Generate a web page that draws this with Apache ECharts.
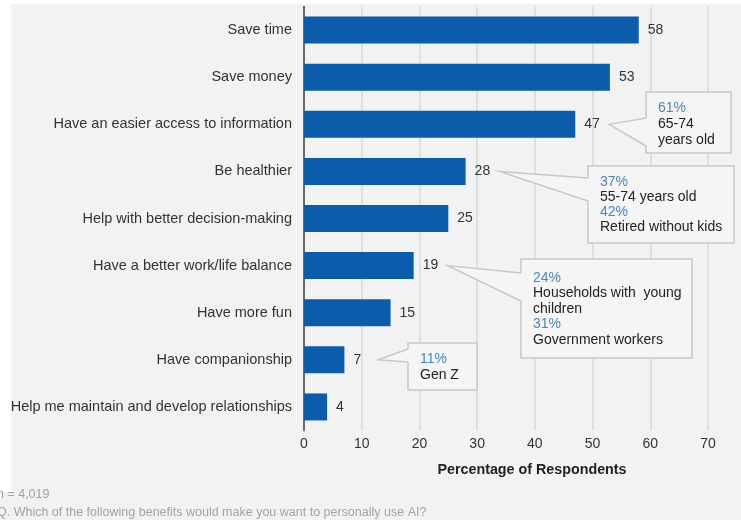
<!DOCTYPE html>
<html>
<head>
<meta charset="utf-8">
<script src="https://cdn.jsdelivr.net/npm/echarts@6/dist/echarts.min.js"></script>
<style>html,body{margin:0;padding:0;background:#f2f2f2;}#c{width:741px;height:520px;}</style>
</head>
<body>
<div id="c"></div>
<script>
const categories = [
  "Save time",
  "Save money",
  "Have an easier access to information",
  "Be healthier",
  "Help with better decision-making",
  "Have a better work/life balance",
  "Have more fun",
  "Have companionship",
  "Help me maintain and develop relationships"
];
const values = [58, 53, 47, 28, 25, 19, 15, 7, 4];
const xTicks = [0, 10, 20, 30, 40, 50, 60, 70];
const axisTitle = "Percentage of Respondents";
const footnotes = ["n = 4,019", "Q. Which of the following benefits would make you want to personally use AI?"];
// callouts: category index, box [x,y,w,h], lines [[text, isBlue]]
const callouts = [
  {idx: 2, box: [646, 92, 85, 61], base: [118, 146], first: 16, lh: 16, lines: [["61%", true], ["65-74", false], ["years old", false]]},
  {idx: 3, box: [588, 166, 146, 77], base: [178, 201], first: 16, lh: 15, lines: [["37%", true], ["55-74 years old", false], ["42%", true], ["Retired without kids", false]]},
  {idx: 5, box: [521, 259, 171, 99], base: [273, 301], first: 19, lh: 15.5, lines: [["24%", true], ["Households with  young", false], ["children", false], ["31%", true], ["Government workers", false]]},
  {idx: 7, box: [408, 343, 69, 47], base: [349, 362], first: 16, lh: 16, lines: [["11%", true], ["Gen Z", false]]}
];

const FONT = "Liberation Sans, Arial, sans-serif";
const chart = echarts.init(document.getElementById('c'));
const option = {
  backgroundColor: '#f2f2f2',
  animation: false,
  grid: {left: 304, right: 33, top: 6.5, bottom: 89.5},
  xAxis: {
    type: 'value', min: 0, max: 70, interval: 10,
    axisLine: {show: false}, axisTick: {show: false},
    splitLine: {show: true, lineStyle: {color: '#d9d9d9', width: 1.5}},
    axisLabel: {color: '#333', fontSize: 14, fontFamily: FONT, margin: 7,
      formatter: v => xTicks.includes(v) ? String(v) : ''}
  },
  yAxis: {
    type: 'category', data: categories, inverse: true,
    axisLine: {show: true, lineStyle: {color: '#404040', width: 1.5}},
    axisTick: {show: false},
    axisLabel: {color: '#333', fontSize: 14.5, fontFamily: FONT, margin: 12}
  },
  series: [{
    type: 'bar', data: values, barWidth: 27,
    itemStyle: {color: '#0b5cab'},
    label: {show: true, position: 'right', distance: 9, color: '#333', fontSize: 14, fontFamily: FONT}
  }]
};
chart.setOption(option);

const g = [];
// white strips
g.push({type: 'rect', shape: {x: 0, y: 0, width: 741, height: 4}, style: {fill: '#ffffff'}, z: 100});
g.push({type: 'rect', shape: {x: 0, y: 0, width: 11, height: 492}, style: {fill: '#ffffff'}, z: 100});
g.push({type: 'text', style: {text: axisTitle, x: 532, y: 470, textAlign: 'center', textVerticalAlign: 'middle', font: 'bold 14.3px ' + FONT, fill: '#222'}, z: 100});
g.push({type: 'text', style: {text: footnotes[0], x: -3, y: 495, textVerticalAlign: 'middle', font: '12.5px ' + FONT, fill: '#a3a3a3'}, z: 100});
g.push({type: 'text', style: {text: footnotes[1], x: -3, y: 513, textVerticalAlign: 'middle', font: '12.5px ' + FONT, fill: '#a3a3a3'}, z: 100});

callouts.forEach(c => {
  const p = chart.convertToPixel({gridIndex: 0}, [values[c.idx], c.idx]);
  const tipX = p[0] + 34, tipY = p[1];
  const [bx, by, bw, bh] = c.box;
  g.push({type: 'rect', shape: {x: bx, y: by, width: bw, height: bh}, style: {fill: '#f5f5f5', stroke: '#c8c8c8', lineWidth: 1.5}, z: 50});
  g.push({type: 'polygon', shape: {points: [[tipX, tipY], [bx + 1, c.base[0]], [bx + 1, c.base[1]]]}, style: {fill: '#f5f5f5'}, z: 51});
  g.push({type: 'polyline', shape: {points: [[bx, c.base[0]], [tipX, tipY], [bx, c.base[1]]]}, style: {stroke: '#c8c8c8', lineWidth: 1.5, fill: null}, z: 52});
  c.lines.forEach((l, i) => {
    g.push({type: 'text', style: {text: l[0], x: bx + 12, y: by + c.first + i * c.lh, textVerticalAlign: 'middle', font: '14px ' + FONT, fill: l[1] ? '#4a86c4' : '#222'}, z: 53});
  });
});
chart.setOption({graphic: g});
</script>
</body>
</html>
